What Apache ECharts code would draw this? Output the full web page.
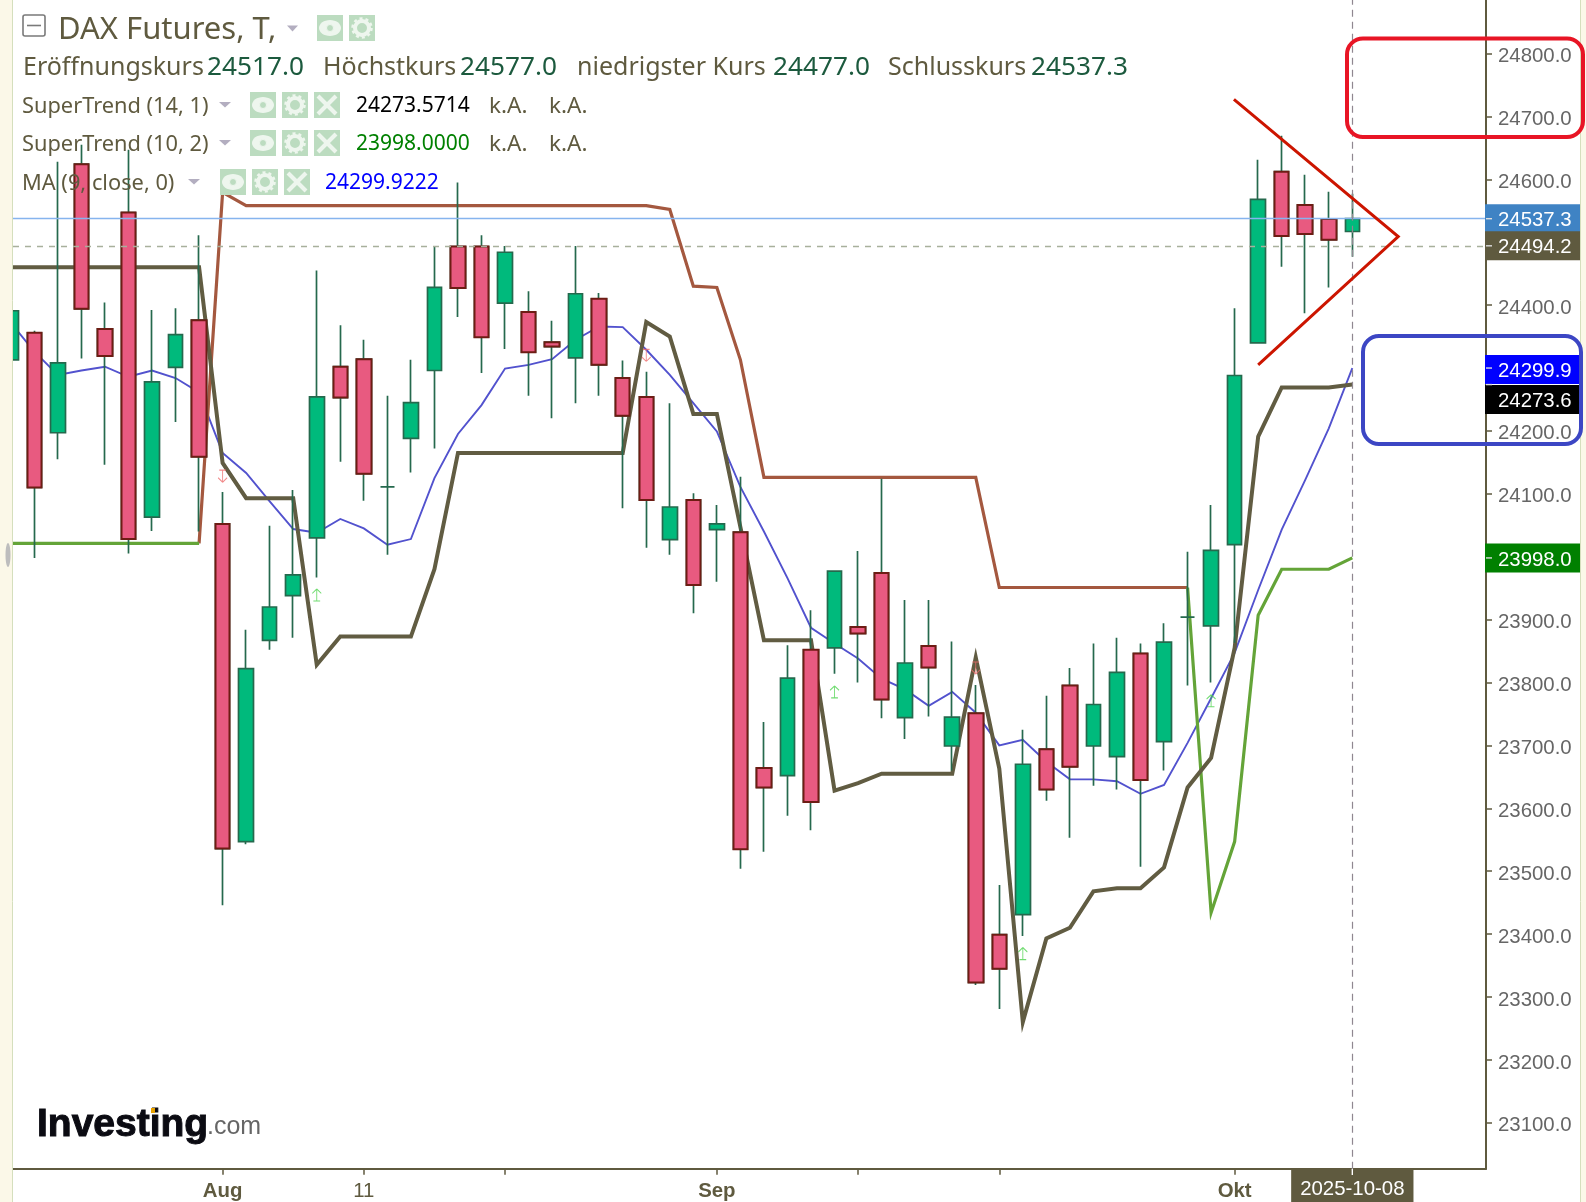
<!DOCTYPE html>
<html><head><meta charset="utf-8">
<script src="https://cdn.jsdelivr.net/npm/echarts@6/dist/echarts.min.js"></script>
<style>html,body{margin:0;padding:0;background:#fff}#c{width:1586px;height:1202px}</style>
</head><body><div id="c"></div>
<script>
const dates=['2025-07-21','2025-07-22','2025-07-23','2025-07-24','2025-07-25','2025-07-28','2025-07-29','2025-07-30','2025-07-31','2025-08-01','2025-08-04','2025-08-05','2025-08-06','2025-08-07','2025-08-08','2025-08-11','2025-08-12','2025-08-13','2025-08-14','2025-08-15','2025-08-18','2025-08-19','2025-08-20','2025-08-21','2025-08-22','2025-08-25','2025-08-26','2025-08-27','2025-08-28','2025-08-29','2025-09-01','2025-09-02','2025-09-03','2025-09-04','2025-09-05','2025-09-08','2025-09-09','2025-09-10','2025-09-11','2025-09-12','2025-09-15','2025-09-16','2025-09-17','2025-09-18','2025-09-19','2025-09-22','2025-09-23','2025-09-24','2025-09-25','2025-09-26','2025-09-29','2025-09-30','2025-10-01','2025-10-02','2025-10-03','2025-10-06','2025-10-07','2025-10-08'];
const opens=[24313,24356,24197,24624,24362,24547,24063,24301,24376,24052,23547,23867,23938,24030,24302,24314,24111,24188,24296,24493,24493,24403,24389,24341,24316,24410,24284,24254,24027,24090,24043,24039,23664,23652,23852,23855,23888,23974,23744,23858,23699,23751,23399,23431,23694,23795,23699,23682,23846,23706,23904,23890,24019,24340,24612,24559,24537,24517];
const closes=[24391,24110,24308,24394,24319,24028,24278,24353,24159,23536,23822,23920,23971,24254,24253,24132,24111,24245,24428,24427,24349,24484,24325,24334,24418,24305,24224,24090,24079,23955,24052,23535,23633,23807,23610,23977,23878,23773,23831,23824,23745,23323,23345,23670,23630,23666,23765,23816,23645,23864,23904,24010,24288,24568,24510,24513,24504,24537.3];
const lows=[24313,23998,24155,24315,24146,24005,24041,24214,24040,23446,23543,23852,23871,23967,24151,24089,24003,24134,24172,24381,24292,24330,24256,24220,24244,24256,24077,24014,24003,23910,23960,23504,23531,23588,23565,23814,23800,23743,23710,23746,23660,23319,23281,23397,23612,23553,23636,23630,23507,23660,23795,23800,23863,24340,24461,24387,24428,24477];
const highs=[24391,24359,24628,24655,24404,24647,24392,24395,24511,24103,23884,24049,24106,24455,24368,24345,24256,24313,24494,24595,24511,24494,24422,24375,24494,24419,24312,24294,24244,24101,24082,24127,23737,23859,23915,23977,24009,24124,23931,23931,23865,23796,23478,23725,23779,23823,23862,23871,23862,23894,24008,24082,24395,24631,24669,24607,24580,24577];
const superTrend14=[24460,24460,24460,24460,24460,24460,24460,24460,24460,24149,24093,24093,24093,23828,23873,23873,23873,23873,23980,24165,24165,24165,24165,24165,24165,24165,24165,24373,24350,24227,24227,24047,23867,23867,23867,23628,23640,23655,23655,23655,23655,23840,23663,23260,23393,23410,23468,23473,23473,23506,23633,23680,23855,24191,24269,24269,24269,24273.6];
const superTrend10Down=[null,null,null,null,null,null,null,null,24021,24579,24558,24558,24558,24558,24558,24558,24558,24558,24558,24558,24558,24558,24558,24558,24558,24558,24558,24558,24552,24430,24428,24313,24126,24126,24126,24126,24126,24126,24126,24126,24126,24126,23951,23951,23951,23951,23951,23951,23951,23951,23951,null,null,null,null,null,null,null];
const superTrend10Up=[24021,24021,24021,24021,24021,24021,24021,24021,24021,null,null,null,null,null,null,null,null,null,null,null,null,null,null,null,null,null,null,null,null,null,null,null,null,null,null,null,null,null,null,null,null,null,null,null,null,null,null,null,null,null,23951,23434,23547,23907,23980,23980,23980,23998];
const ma9=[24372,24326,24289,24296,24302,24286,24296,24284,24261,24165,24133,24088,24044,24038,24060,24045,24019,24028,24125,24195,24241,24299,24305,24314,24345,24366,24365,24329,24289,24244,24199,24111,24040,23966,23887,23862,23838,23806,23789,23763,23785,23752,23700,23709,23674,23646,23646,23643,23623,23637,23704,23775,23847,23947,24043,24122,24204,24299.9];
const wedge=[[51.97,24727],[58.95,24509],[53.0,24305]];
const upArrows=[[13,23939],[35,23785],[43,23369],[51,23771]];
const downArrows=[[9,24128],[27,24320],[41,23823]];
const priceTicks=[24800,24700,24600,24400,24200,24100,23900,23800,23700,23600,23500,23400,23300,23200,23100];
const dateTicks=[9,15,21,30,36,42,52,57];
const dateLabels=['Aug','11','','Sep','','','Okt','2025-10-08'];
const lastClose=24537.3, crossPrice=24494.2, crossIndex=57;
const priceTags=[['24537.3',24537.3,'#3f83c4',0],['24494.2',24494.2,'#5f5a3f',0],['24299.9',24299.9,'#0000ff',1.5],['24273.6',24273.6,'#000000',15],['23998.0',23998,'#008000',0]];
const ohlcRows=[['Eröffnungskurs',23,'24517.0',207],['Höchstkurs',323,'24577.0',460],['niedrigster Kurs',577,'24477.0',773],['Schlusskurs',888,'24537.3',1031]];
const indicators=[['SuperTrend (14, 1)',105,250,'24273.5714','#000000',356,219],['SuperTrend (10, 2)',143,250,'23998.0000','#008000',356,219],['MA (9, close, 0)',182,220,'24299.9222','#0000ff',325,188]];

const UI='"Noto Sans",sans-serif', AR='"Liberation Sans",Arial,sans-serif', OL='#5f5a3f';
const candles=dates.map((d,i)=>[i,opens[i],closes[i],lows[i],highs[i]]);
const redBodies=candles.filter(r=>r[1]>r[2]).map(r=>[r[0],r[1],r[2],r[2],r[1]]);
const idx=a=>a.map((v,i)=>[i,v]);
const lineS=(name,data,color,w,z,extra)=>Object.assign({name,type:'line',data,symbol:'none',z,animation:false,connectNulls:false,lineStyle:{color,width:w,join:'miter',miterLimit:20},silent:true},extra||{});

const chart=echarts.init(document.getElementById('c'),null,{renderer:'canvas'});
chart.setOption({
 animation:false,backgroundColor:'#ffffff',
 grid:{left:13,right:100,top:0,bottom:33.3,outerBoundsMode:'none',containLabel:false},
 xAxis:{type:'value',min:0.0935,max:62.68,splitLine:{show:false},
  axisLine:{show:true,onZero:false,lineStyle:{color:OL,width:2}},
  axisTick:{show:true,length:6,customValues:dateTicks,lineStyle:{color:OL,width:1.5}},
  axisLabel:{show:true,customValues:dateTicks,margin:8,hideOverlap:false,showMinLabel:true,showMaxLabel:true,
   formatter:v=>{const k=dateTicks.indexOf(v),s=dateLabels[k];if(!s)return '';return s.length>4?'{tag|'+s+'}':(/\d/.test(s)?'{n|'+s+'}':'{b|'+s+'}');},
   rich:{b:{fontFamily:AR,fontSize:20.4,fontWeight:'bold',color:OL,padding:[13,0,2,0],lineHeight:18},n:{fontFamily:AR,fontSize:20.4,color:OL,padding:[13,0,2,0],lineHeight:18},
    tag:{fontFamily:AR,fontSize:20.4,color:'#fff',backgroundColor:OL,padding:[11,9,4,9],lineHeight:18}}}},
 yAxis:{type:'value',position:'right',min:23027,max:24885,splitLine:{show:false},
  axisLine:{show:true,onZero:false,lineStyle:{color:OL,width:2}},
  axisTick:{show:true,length:6,customValues:priceTicks,lineStyle:{color:OL,width:1.5}},
  axisLabel:{show:true,customValues:priceTicks,margin:12,formatter:v=>'{p|'+v.toFixed(1)+'}',
   rich:{p:{fontFamily:AR,fontSize:20.4,color:'#666666',padding:[6,0,0,0]}}}},
 series:[
  lineS('MA',idx(ma9),'#5252ce',1.9,2,{markLine:{silent:true,symbol:'none',label:{show:false},animation:false,data:[
    {yAxis:lastClose,lineStyle:{color:'#86b4ee',width:1.4,type:'solid'}},
    {yAxis:crossPrice,lineStyle:{color:'#a8b09c',width:1.4,type:[6,6]}},
    {xAxis:crossIndex,lineStyle:{color:'#8f8790',width:1.2,type:[7,5]}}]}}),
  lineS('ST10d',idx(superTrend10Down),'#a4583f',3.2,2),
  lineS('ST10u',idx(superTrend10Up),'#64a438',3.2,2),
  lineS('ST14',idx(superTrend14),'#615c42',4,2),
  {name:'DAX',type:'candlestick',z:3,barWidth:15,data:candles,encode:{x:0,y:[1,2,3,4]},silent:true,
   itemStyle:{color:'#00ba7c',color0:'#e85a80',borderColor:'#25694d',borderColor0:'#25694d',borderWidth:1.7}},
  {name:'DAXred',type:'candlestick',z:4,barWidth:15,data:redBodies,encode:{x:0,y:[1,2,3,4]},silent:true,
   itemStyle:{color:'#e85a80',color0:'#e85a80',borderColor:'#6e1c14',borderColor0:'#6e1c14',borderWidth:2}},
  lineS('wedge',wedge,'#cc1500',3,6),
  {type:'scatter',z:5,silent:true,data:upArrows,symbol:'path://M4 0L0 4M4 0L8 4M4 0L4 11M1 11L7 11',symbolSize:[9,12],itemStyle:{color:'none',borderColor:'#4bd24b',borderWidth:1}},
  {type:'scatter',z:5,silent:true,data:downArrows,symbol:'path://M1 0L7 0M4 0L4 11M4 11L0 7M4 11L8 7',symbolSize:[9,12],itemStyle:{color:'none',borderColor:'#ee6a6a',borderWidth:1}}
 ]
});

const els=[];
const T=(text,x,y,fill,font,extra)=>els.push({type:'text',z:20,silent:true,style:Object.assign({text,x,y,fill,font,textVerticalAlign:'middle',textAlign:'left'},extra||{})});
const R=(x,y,w,h,fill,z)=>els.push({type:'rect',z:z||20,silent:true,shape:{x,y,width:w,height:h},style:{fill}});
const L=(x1,y1,x2,y2,stroke,w)=>els.push({type:'line',z:21,silent:true,shape:{x1,y1,x2,y2},style:{stroke,lineWidth:w}});
const TRI=(x,y,w,h,fill)=>els.push({type:'polygon',z:20,silent:true,shape:{points:[[x,y],[x+w,y],[x+w/2,y+h]]},style:{fill}});
const BG='#bcdcc0';
const eye=(x,y)=>{R(x,y,26,26,BG);els.push({type:'ellipse',z:21,silent:true,shape:{cx:x+13,cy:y+13,rx:11,ry:8},style:{fill:'#eef6ee'}});els.push({type:'circle',z:22,silent:true,shape:{cx:x+13,cy:y+13,r:3.5},style:{fill:BG,stroke:'#eef6ee',lineWidth:1}});};
const gear=(x,y)=>{R(x,y,26,26,BG);els.push({type:'circle',z:21,silent:true,shape:{cx:x+13,cy:y+13,r:7},style:{fill:'none',stroke:'#eef6ee',lineWidth:4}});els.push({type:'circle',z:21,silent:true,shape:{cx:x+13,cy:y+13,r:9.5},style:{fill:'none',stroke:'#eef6ee',lineWidth:2.5,lineDash:[3,3]}});};
const cross=(x,y)=>{R(x,y,26,26,BG);L(x+4,y+4,x+22,y+22,'#eef6ee',4);L(x+22,y+4,x+4,y+22,'#eef6ee',4);};

// margins and stripes
R(0,0,12,1202,'#fbf8e8',15);L(12.5,0,12.5,1202,'#d5dfbd',1);
R(1581,0,5,1202,'#fbf8e8',15);L(1580.5,0,1580.5,1202,'#d5dfbd',1);
els.push({type:'ellipse',z:20,silent:true,shape:{cx:8,cy:555,rx:2.5,ry:12},style:{fill:'#bdbdbd'}});

// header
els.push({type:'rect',z:20,silent:true,shape:{x:23,y:15,width:22,height:21,r:2},style:{fill:'#fff',stroke:'#7a7a7a',lineWidth:1.6}});
L(27,25.5,41,25.5,'#7a7a7a',1.6);
T('DAX Futures, T,',58,30.5,OL,'31px '+UI);
TRI(287,25.5,11,6,'#b3aec0');eye(317,15);gear(349,15);
ohlcRows.forEach(r=>{T(r[0],r[1],67.5,OL,'25px '+UI);T(r[2],r[3],67.5,'#1c5a3e','26.2px '+UI);});
indicators.forEach(r=>{
 const y=r[1];
 T(r[0],22,y+1.5,OL,'21.8px '+UI);
 TRI(r[6],y-3,12,5.5,'#b3aec0');
 eye(r[2],y-13);gear(r[2]+32,y-13);cross(r[2]+64,y-13);
 T(r[3],r[5],y+1.5,r[4],'21px '+UI);
 if(y<150){T('k.A.',489,y+1.5,OL,'22.5px '+UI);T('k.A.',549,y+1.5,OL,'22.5px '+UI);}
});

// logo
T('Investing',37,1125,'#0b0b12','bold 39px '+AR,{stroke:'#0b0b12',lineWidth:1});
T('.com',207,1127.5,'#666666','25px '+AR);
R(151,1108,4,5,'#e8a200');

// price tags
priceTags.forEach(t=>{
 const p=chart.convertToPixel({yAxisIndex:0},t[1]);
 const cy=p+t[3];
 R(1485,cy-14.5,95,29,t[2],18);
 L(1486,p,1492,p,'#dddddd',1.4);
 T(t[0],1498,cy+2,'#ffffff','20.4px '+AR);
});
const xp=chart.convertToPixel({xAxisIndex:0},crossIndex);
L(xp,1168.7,xp,1175,'#ffffff',1.4);

// drawn rectangles
els.push({type:'rect',z:25,silent:true,shape:{x:1347,y:38.5,width:236,height:98.5,r:16},style:{fill:'none',stroke:'#e81525',lineWidth:4}});
els.push({type:'rect',z:25,silent:true,shape:{x:1363,y:336,width:218,height:108,r:16},style:{fill:'none',stroke:'#3c46c4',lineWidth:4}});
chart.setOption({graphic:{elements:els}});
</script></body></html>
